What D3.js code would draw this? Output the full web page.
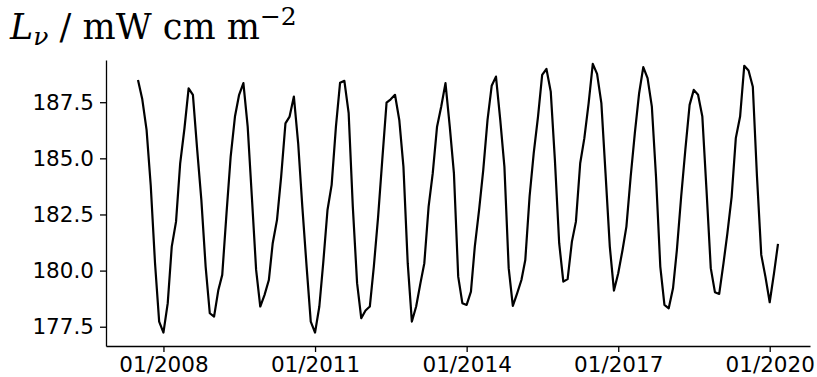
<!DOCTYPE html>
<html>
<head>
<meta charset="utf-8">
<script src="https://cdn.jsdelivr.net/npm/d3@7"></script>
<style>
  body { margin: 0; background: #fff; }
  svg { display: block; }
</style>
</head>
<body>
<svg id="chart"></svg>
<script>
(function() {

    // monthly radiance, first value is 07/2007
    var startYear = 2007, startMonth = 6;   // JS month index
    var radiance = [
        188.49, 187.63, 186.27, 183.80, 180.34, 177.73,
        177.24, 178.55, 181.07, 182.18, 184.78, 186.34, 188.12, 187.83, 185.38, 183.15, 180.18, 178.10,
        177.95, 179.14, 179.81, 182.56, 185.08, 186.86, 187.83, 188.35, 186.41, 183.30, 180.03, 178.40,
        178.92, 179.58, 181.22, 182.26, 184.19, 186.56, 186.86, 187.75, 185.67, 182.85, 180.18, 177.73,
        177.24, 178.40, 180.33, 182.70, 183.82, 186.41, 188.37, 188.45, 187.01, 182.85, 179.44, 177.88,
        178.22, 178.40, 180.18, 182.40, 184.93, 187.48, 187.63, 187.83, 186.71, 184.63, 180.33, 177.73,
        178.40, 179.44, 180.33, 182.85, 184.34, 186.41, 187.30, 188.35, 186.41, 184.34, 179.73, 178.55,
        178.47, 179.06, 181.07, 182.70, 184.48, 186.71, 188.23, 188.64, 186.71, 184.63, 180.11, 178.43,
        178.99, 179.58, 180.47, 183.30, 185.23, 186.86, 188.72, 188.98, 187.97, 184.93, 181.22, 179.51,
        179.62, 181.29, 182.18, 184.78, 185.90, 187.46, 189.21, 188.76, 187.46, 184.34, 181.07, 179.11,
        179.88, 180.92, 181.96, 184.19, 186.12, 187.90, 189.06, 188.57, 187.30, 184.19, 180.18, 178.47,
        178.32, 179.21, 180.92, 183.30, 185.38, 187.38, 188.05, 187.83, 186.86, 183.60, 180.11, 179.04,
        178.96, 180.33, 181.66, 183.30, 185.90, 186.86, 189.12, 188.91, 188.19, 184.19, 180.70, 179.73,
        178.59, 179.88, 181.19
    ];

    var tickYears = [2008, 2011, 2014, 2017, 2020];
    var yTicks = [177.5, 180.0, 182.5, 185.0, 187.5];
    var yMax = 189.38;   // upper limit of the axis

    var W = 817, H = 377;
    var margin = { top: 60, right: 7, bottom: 31, left: 106 };

    var data = radiance.map(function(v, i) {
        return { date: new Date(startYear, startMonth + i, 1), value: v };
    });

    var svg = d3.select("#chart")
        .attr("width", W)
        .attr("height", H);

    // x axis with 5% padding like matplotlib
    var ext = d3.extent(data, d => d.date);
    var pad = (ext[1] - ext[0]) * 0.05;
    var x = d3.scaleTime()
        .domain([new Date(+ext[0] - pad), new Date(+ext[1] + pad)])
        .range([margin.left, W - margin.right]);

    var yMin = d3.min(radiance), yTop = d3.max(radiance);
    var y = d3.scaleLinear()
        .domain([yMin - (yTop - yMin) * 0.05, yMax])
        .range([H - margin.bottom, margin.top]);

    var tickFont = "'DejaVu Sans', sans-serif";

    var xAxis = svg.append("g")
        .attr("transform", "translate(0," + (H - margin.bottom) + ")")
        .call(d3.axisBottom(x)
            .tickValues(tickYears.map(yr => new Date(yr, 0, 1)))
            .tickFormat(d3.timeFormat("%m/%Y"))
            .tickSize(6)
            .tickSizeOuter(0)
            .tickPadding(5));

    var yAxis = svg.append("g")
        .attr("transform", "translate(" + margin.left + ",0)")
        .call(d3.axisLeft(y)
            .tickValues(yTicks)
            .tickFormat(d3.format(".1f"))
            .tickSize(6)
            .tickSizeOuter(0)
            .tickPadding(6));

    [xAxis, yAxis].forEach(function(g) {
        g.select(".domain").attr("stroke", "#000").attr("stroke-width", 1.3);
        g.selectAll(".tick line").attr("stroke", "#000").attr("stroke-width", 1.3);
        g.selectAll(".tick text")
            .attr("fill", "#000")
            .style("font-family", tickFont)
            .style("font-size", "21.5px");
    });

    var line = d3.line()
        .x(d => x(d.date))
        .y(d => y(d.value));

    svg.append("path")
        .datum(data)
        .attr("fill", "none")
        .attr("stroke", "#000")
        .attr("stroke-width", 2.2)
        .attr("stroke-linejoin", "round")
        .attr("d", line);

    // unit label at the top
    var title = svg.append("text")
        .attr("x", 10)
        .attr("y", 39)
        .attr("fill", "#000")
        .style("font-family", "'DejaVu Serif', serif")
        .style("font-size", "35px");
    title.append("tspan").style("font-style", "italic").text("L");
    title.append("tspan").style("font-style", "italic").style("font-size", "25px")
        .attr("dy", 6).text("\u03bd");
    title.append("tspan").attr("dy", -6).text(" / mW cm m");
    title.append("tspan").style("font-size", "25px").attr("dy", -14).text("\u22122");

})();
</script>
</body>
</html>
